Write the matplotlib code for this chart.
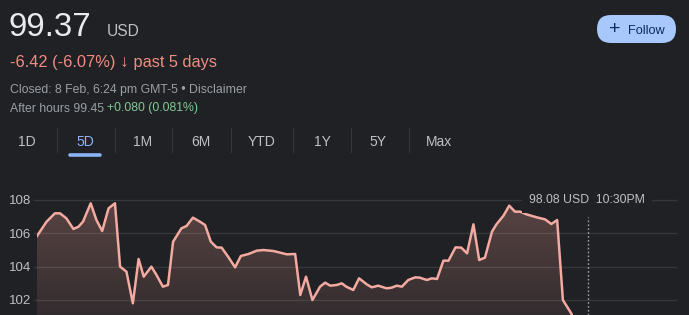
import matplotlib.pyplot as plt
import numpy as np
from matplotlib.patches import FancyBboxPatch, Polygon


# Colours of the dark finance card
bg = '#202124'
lineColor = '#f3aaa0'
redText = '#f28b82'
greyText = '#9aa0a6'
lightText = '#bdc1c6'
greenText = '#81c995'
blueText = '#8ab4f8'

plt.rcParams['font.family'] = ['Liberation Sans', 'DejaVu Sans']

# Header values
price = '99.37'
currency = 'USD'
changeMsg = '-6.42 (-6.07%) '
changeArrow = '\u2193'
changeTail = ' past 5 days'
closedMsg = 'Closed: 8 Feb, 6:24 pm GMT-5 \u2022 Disclaimer'
afterHoursMsg = 'After hours 99.45 '
afterHoursChange = '+0.080 (0.081%)'
tabs = ['1D', '5D', '1M', '6M', 'YTD', '1Y', '5Y', 'Max']
activeTab = '5D'
tooltipMsg = '98.08 USD  10:30PM'

# Price series, time given as percent of the 5 day window
t = [0.0, 1.5, 2.8, 3.6, 4.6, 5.7, 6.5, 7.2, 8.4, 9.3,
     10.2, 11.2, 12.2, 13.0, 14.0, 15.0, 15.9, 16.7, 17.9, 18.7,
     19.7, 20.5, 21.3, 22.6, 23.4, 24.4, 25.5, 26.3, 27.2, 28.1,
     28.9, 29.9, 31.0, 31.9, 33.1, 34.4, 35.4, 37.0, 39.1, 40.4,
     41.2, 42.1, 43.1, 44.3, 45.1, 45.9, 46.9, 47.7, 48.4, 49.5,
     50.4, 51.6, 52.4, 53.4, 54.7, 55.5, 56.3, 57.1, 58.1, 59.2,
     59.9, 61.0, 61.8, 62.6, 63.6, 64.4, 65.5, 66.4, 67.3, 68.3,
     69.2, 70.1, 71.2, 71.9, 73.0, 73.9, 74.8, 75.6, 76.6, 78.2,
     79.5, 80.5, 81.4, 82.3, 83.6, 85.0]
prices = [105.84, 106.7, 107.2, 107.2, 106.9, 106.26, 106.4, 106.7, 107.8, 106.8,
          106.14, 107.5, 107.8, 104.0, 103.7, 101.8, 104.46, 103.4, 104.0, 103.5,
          102.8, 102.9, 105.5, 106.3, 106.44, 106.94, 106.7, 106.5, 105.5, 105.16,
          105.14, 104.6, 103.96, 104.64, 104.76, 104.96, 105.0, 104.94, 104.74, 104.76,
          102.3, 103.4, 102.0, 102.8, 103.04, 102.86, 102.9, 103.0, 102.8, 102.6,
          103.3, 102.94, 102.76, 102.86, 102.7, 102.74, 102.86, 102.8, 103.2, 103.36,
          103.34, 103.2, 103.3, 103.26, 104.36, 104.36, 105.16, 105.14, 104.8, 106.54,
          104.4, 104.54, 106.1, 106.54, 107.06, 107.66, 107.3, 107.3, 107.14, 106.96,
          106.84, 106.56, 106.8, 102.0, 101.2, 100.0]
yTicks = [102, 104, 106, 108]
hoverT = 86.2
hoverTop = 107.0

W, H = 689, 315
fig = plt.figure(figsize=(W / 100, H / 100), dpi=100, facecolor=bg)

# Overlay in pixel units for the header part
ui = fig.add_axes([0, 0, 1, 1])
ui.set_xlim(0, W)
ui.set_ylim(H, 0)
ui.axis('off')
ui.set_facecolor(bg)
fig.canvas.draw()
renderer = fig.canvas.get_renderer()


def textRow(x, y, parts):
    # parts: list of (text, colour, size, weight), drawn one after another
    for s, c, size, weight in parts:
        txt = ui.text(x, y, s, color=c, fontsize=size, fontweight=weight, va='baseline')
        x += txt.get_window_extent(renderer).width


ui.text(9, 36.5, price, color='#e8eaed', fontsize=23.8, va='baseline')
ui.text(107, 36.5, currency, color=lightText, fontsize=11.2, va='baseline')
textRow(10, 67, [(changeMsg, redText, 11.8, 'normal'),
                 (changeArrow, redText, 12.5, 'bold'),
                 (changeTail, redText, 11.8, 'normal')])
ui.text(10, 93, closedMsg, color=greyText, fontsize=8.8, va='baseline')
textRow(10, 111.5, [(afterHoursMsg, greyText, 8.8, 'normal'),
                    (afterHoursChange, greenText, 8.8, 'normal')])

# Range tabs
tabCentres = [27, 85, 143, 201, 262, 322, 378, 439]
separators = [57, 115, 172, 231, 293, 351, 409]
for name, cx in zip(tabs, tabCentres):
    ui.text(cx, 146.5, name, color=blueText if name == activeTab else lightText,
            fontsize=10, ha='center', va='baseline')
for sx in separators:
    ui.plot([sx, sx], [128, 152], color='#33363a', lw=0.8)
ui.plot([70, 100], [154.5, 154.5], color=blueText, lw=2.6, solid_capstyle='round')

# Follow button
ui.add_patch(FancyBboxPatch((597, 15), 79, 28, boxstyle='round,pad=0,rounding_size=14',
                            facecolor='#a8c7fa', edgecolor='none'))
ui.text(615, 29, '+', color='#0b2a5c', fontsize=14, ha='center', va='center')
ui.text(628, 34, 'Follow', color='#0b2a5c', fontsize=9.2, va='baseline')

# Chart area
ax = fig.add_axes([37 / W, 0, 639 / W, 130 / H])
ax.set_facecolor('none')
for s in ax.spines.values():
    s.set_visible(False)
ax.set_xticks([])
ax.set_yticks(yTicks)
ax.set_yticklabels([str(v) for v in yTicks])
ax.tick_params(axis='y', length=0, pad=4, labelcolor=lightText, labelsize=9.5)
for v in yTicks:
    ax.plot([-0.4, 100], [v, v], color='white', alpha=0.1, lw=1.0, zorder=2.5, clip_on=False)

# Gradient under the line
poly = Polygon(list(zip(t, prices)) + [(t[-1], 99), (t[0], 99)], closed=True,
               facecolor='none', edgecolor='none')
ax.add_patch(poly)
rgb = np.array([0.95, 0.63, 0.59])
grad = np.zeros((256, 1, 4))
grad[:, :, :3] = rgb
grad[:, :, 3] = np.linspace(0.04, 0.27, 256)[:, None]
img = ax.imshow(grad, extent=(0, 100, 99, max(prices)), origin='lower',
                aspect='auto', zorder=2)
img.set_clip_path(poly)
ax.set_xlim(0, 100)
ax.set_ylim(101.1, 108.9)

ax.plot(t, prices, color=lineColor, lw=1.8, zorder=3, solid_joinstyle='round')

# Hover marker and tooltip
ax.plot([hoverT, hoverT], [101.1, hoverTop], color=greyText, lw=1.0,
        linestyle=(0, (1.2, 1.6)), zorder=3)
ax.text(86.1, 108, tooltipMsg, color=lightText, fontsize=8.8, ha='center', va='center',
        zorder=4, bbox=dict(facecolor=bg, edgecolor='none', pad=5))

fig.savefig('out.png', dpi=100, facecolor=bg)
